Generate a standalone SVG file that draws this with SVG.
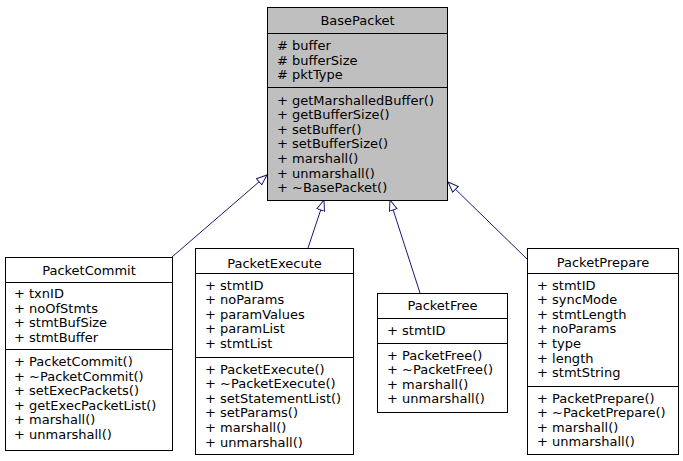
<svg xmlns="http://www.w3.org/2000/svg" width="683" height="461" viewBox="0 0 683 461">
<style>
text{font-family:"DejaVu Sans",sans-serif;font-size:13px;fill:#000}
.t{text-anchor:middle}
.box{fill:#fff;stroke:#000;stroke-width:1}
.base{fill:#bfbfbf;stroke:#000;stroke-width:1}
.sep{stroke:#000;stroke-width:1}
.edge{fill:none;stroke:#191970;stroke-width:1;marker-end:url(#tri)}
</style>
<defs>
<marker id="tri" markerWidth="12" markerHeight="10" refX="11" refY="4.5" orient="auto" markerUnits="userSpaceOnUse">
<path d="M0.5,0.5 L11,4.5 L0.5,8.5 Z" fill="#fff" stroke="#191970" stroke-width="1"/>
</marker>
</defs>
<rect width="683" height="461" fill="#fff"/>
<g id="connectors">
<line class="edge" x1="172" y1="257" x2="267" y2="175"/>
<line class="edge" x1="308" y1="248" x2="324" y2="200"/>
<line class="edge" x1="420" y1="293" x2="390" y2="200"/>
<line class="edge" x1="527" y1="259" x2="448" y2="182"/>
</g>
<g id="BasePacket">
<rect class="base" x="267.5" y="7.5" width="180" height="193"/>
<line class="sep" x1="267.5" y1="33.5" x2="447.5" y2="33.5"/>
<line class="sep" x1="267.5" y1="87.5" x2="447.5" y2="87.5"/>
<text class="t" x="357.5" y="24.5">BasePacket</text>
<text x="277" y="50"># buffer</text>
<text x="277" y="64.5"># bufferSize</text>
<text x="277" y="79"># pktType</text>
<text x="277" y="104.5">+ getMarshalledBuffer()</text>
<text x="277" y="119.1">+ getBufferSize()</text>
<text x="277" y="133.7">+ setBuffer()</text>
<text x="277" y="148.3">+ setBufferSize()</text>
<text x="277" y="162.9">+ marshall()</text>
<text x="277" y="177.5">+ unmarshall()</text>
<text x="277" y="192.1">+ ~BasePacket()</text>
</g>
<g id="PacketCommit">
<rect class="box" x="5.5" y="257.5" width="167" height="193"/>
<line class="sep" x1="5.5" y1="282.5" x2="172.5" y2="282.5"/>
<line class="sep" x1="5.5" y1="349.5" x2="172.5" y2="349.5"/>
<text class="t" x="89" y="274.5">PacketCommit</text>
<text x="14" y="298">+ txnID</text>
<text x="14" y="312.6">+ noOfStmts</text>
<text x="14" y="327.2">+ stmtBufSize</text>
<text x="14" y="341.8">+ stmtBuffer</text>
<text x="14" y="366">+ PacketCommit()</text>
<text x="14" y="380.6">+ ~PacketCommit()</text>
<text x="14" y="395.2">+ setExecPackets()</text>
<text x="14" y="409.8">+ getExecPacketList()</text>
<text x="14" y="424.4">+ marshall()</text>
<text x="14" y="439">+ unmarshall()</text>
</g>
<g id="PacketExecute">
<rect class="box" x="195.5" y="248.5" width="158" height="206"/>
<line class="sep" x1="195.5" y1="273.5" x2="353.5" y2="273.5"/>
<line class="sep" x1="195.5" y1="357.5" x2="353.5" y2="357.5"/>
<text class="t" x="274.5" y="267.5">PacketExecute</text>
<text x="205" y="289.5">+ stmtID</text>
<text x="205" y="304.1">+ noParams</text>
<text x="205" y="318.7">+ paramValues</text>
<text x="205" y="333.3">+ paramList</text>
<text x="205" y="347.9">+ stmtList</text>
<text x="205" y="373.5">+ PacketExecute()</text>
<text x="205" y="388.1">+ ~PacketExecute()</text>
<text x="205" y="402.7">+ setStatementList()</text>
<text x="205" y="417.3">+ setParams()</text>
<text x="205" y="431.9">+ marshall()</text>
<text x="205" y="446.5">+ unmarshall()</text>
</g>
<g id="PacketFree">
<rect class="box" x="377.5" y="293.5" width="130" height="119"/>
<line class="sep" x1="377.5" y1="318.5" x2="507.5" y2="318.5"/>
<line class="sep" x1="377.5" y1="343.5" x2="507.5" y2="343.5"/>
<text class="t" x="442.5" y="310">PacketFree</text>
<text x="387" y="334.5">+ stmtID</text>
<text x="387" y="359.5">+ PacketFree()</text>
<text x="387" y="374.1">+ ~PacketFree()</text>
<text x="387" y="388.7">+ marshall()</text>
<text x="387" y="403.3">+ unmarshall()</text>
</g>
<g id="PacketPrepare">
<rect class="box" x="527.5" y="248.5" width="151" height="206"/>
<line class="sep" x1="527.5" y1="273.5" x2="678.5" y2="273.5"/>
<line class="sep" x1="527.5" y1="386.5" x2="678.5" y2="386.5"/>
<text class="t" x="603" y="267">PacketPrepare</text>
<text x="537" y="289.5">+ stmtID</text>
<text x="537" y="304.1">+ syncMode</text>
<text x="537" y="318.7">+ stmtLength</text>
<text x="537" y="333.3">+ noParams</text>
<text x="537" y="347.9">+ type</text>
<text x="537" y="362.5">+ length</text>
<text x="537" y="377.1">+ stmtString</text>
<text x="537" y="402.5">+ PacketPrepare()</text>
<text x="537" y="417.1">+ ~PacketPrepare()</text>
<text x="537" y="431.7">+ marshall()</text>
<text x="537" y="446.3">+ unmarshall()</text>
</g>
</svg>
